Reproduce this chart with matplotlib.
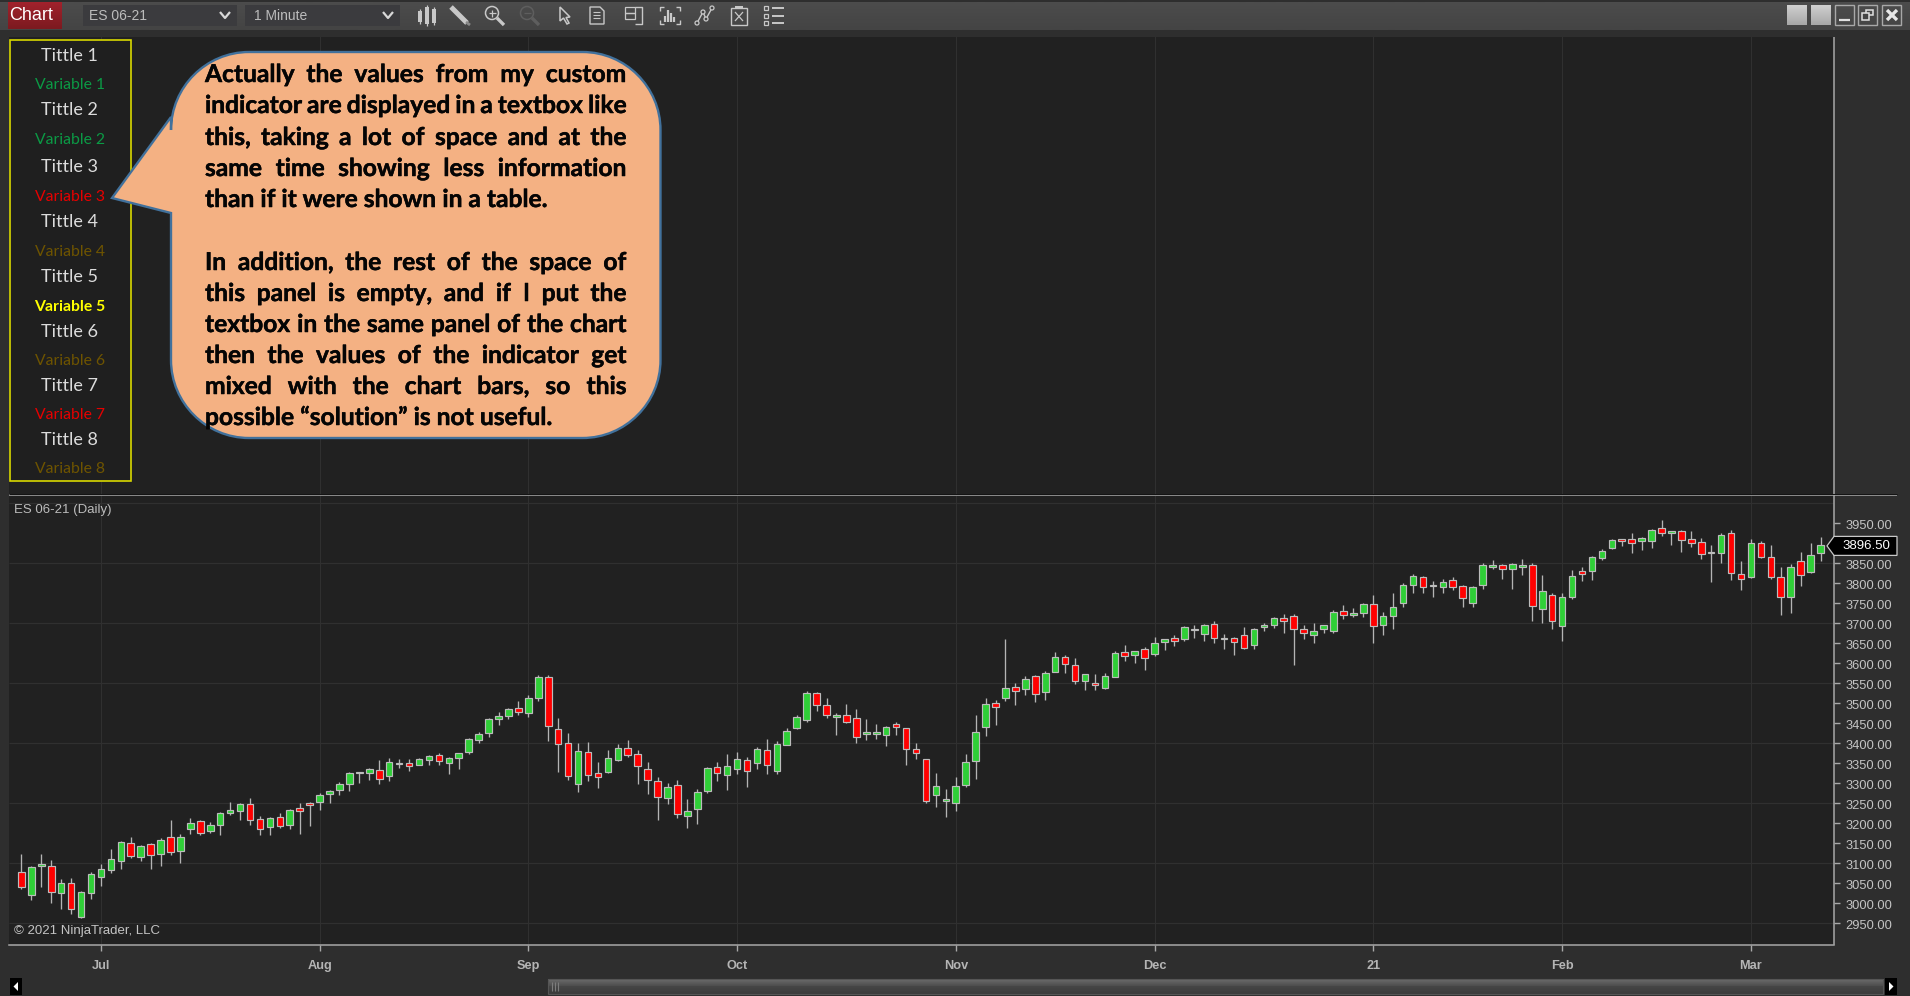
import matplotlib
matplotlib.use('Agg')
import matplotlib.pyplot as plt
from matplotlib.patches import Rectangle, Polygon, PathPatch, Circle
from matplotlib.path import Path
from matplotlib.transforms import ScaledTranslation
import matplotlib.patheffects as pe
import numpy as np

W, H = 1910, 996

opens = [3079,3022,3093,3094,3027,3052,2966,3026,3066,3083,
         3106,3152,3117,3149,3123,3167,3131,3186,3207,3181,
         3196,3225,3230,3248,3211,3191,3217,3196,3239,3252,
         3253,3273,3283,3298,3326,3327,3333,3319,3349,3350,
         3347,3359,3370,3352,3364,3379,3409,3427,3462,3468,
         3489,3477,3513,3565,3437,3402,3298,3378,3325,3329,
         3359,3388,3373,3336,3307,3263,3297,3218,3236,3282,
         3341,3320,3335,3358,3350,3383,3330,3397,3438,3459,
         3527,3495,3466,3471,3463,3424,3424,3422,3448,3438,
         3386,3361,3271,3256,3251,3295,3356,3440,3501,3513,
         3542,3537,3568,3529,3579,3617,3597,3555,3552,3539,
         3567,3628,3622,3637,3623,3654,3664,3660,3683,3673,
         3699,3660,3664,3672,3646,3690,3695,3714,3719,3687,
         3672,3687,3681,3732,3722,3726,3748,3696,3718,3752,
         3797,3817,3794,3792,3808,3793,3751,3797,3841,3847,
         3835,3842,3845,3736,3771,3694,3765,3831,3832,3863,
         3888,3910,3912,3907,3905,3938,3927,3930,3910,3904,
         3876,3877,3925,3823,3816,3902,3867,3817,3765,3855,
         3829,3877]
closes = [3042,3092,3099,3028,3052,2987,3029,3073,3085,3112,
          3154,3118,3144,3121,3159,3128,3167,3201,3175,3197,
          3227,3234,3249,3208,3186,3213,3193,3234,3230,3245,
          3271,3281,3298,3326,3328,3335,3310,3353,3351,3343,
          3361,3368,3355,3363,3375,3410,3424,3462,3468,3487,
          3479,3513,3565,3443,3399,3318,3382,3320,3315,3363,
          3388,3370,3343,3308,3267,3292,3223,3230,3279,3339,
          3326,3343,3362,3330,3386,3345,3398,3431,3465,3526,
          3497,3472,3470,3454,3415,3429,3429,3441,3442,3385,
          3375,3255,3294,3260,3294,3353,3428,3498,3492,3538,
          3532,3561,3524,3575,3615,3599,3557,3573,3547,3568,
          3625,3618,3630,3613,3652,3660,3657,3692,3687,3695,
          3663,3663,3654,3638,3687,3695,3713,3705,3686,3676,
          3682,3697,3729,3721,3727,3749,3694,3719,3742,3796,
          3819,3792,3797,3803,3790,3763,3790,3846,3845,3836,
          3848,3845,3743,3781,3707,3767,3818,3823,3866,3881,
          3908,3905,3902,3914,3933,3927,3930,3909,3902,3873,
          3878,3922,3827,3810,3901,3867,3817,3766,3840,3820,
          3872,3896.5]
highs = [3124,3093,3124,3108,3060,3063,3030,3079,3098,3137,
         3155,3166,3147,3150,3163,3208,3173,3214,3209,3204,
         3228,3254,3252,3264,3219,3215,3227,3237,3250,3253,
         3277,3283,3303,3328,3329,3338,3358,3363,3360,3360,
         3363,3370,3376,3366,3377,3413,3428,3463,3478,3489,
         3506,3521,3571,3571,3464,3427,3402,3403,3353,3383,
         3398,3408,3384,3354,3317,3300,3309,3261,3286,3342,
         3354,3373,3379,3367,3390,3411,3407,3438,3471,3532,
         3528,3513,3476,3498,3486,3461,3448,3444,3454,3438,
         3402,3362,3325,3287,3315,3374,3472,3513,3508,3660,
         3552,3568,3570,3582,3628,3620,3613,3573,3573,3577,
         3630,3646,3632,3642,3667,3662,3672,3693,3696,3699,
         3705,3673,3667,3690,3688,3702,3717,3723,3723,3696,
         3700,3697,3733,3747,3738,3752,3772,3729,3775,3802,
         3823,3818,3807,3811,3817,3796,3794,3851,3858,3848,
         3851,3861,3850,3822,3776,3776,3833,3842,3868,3885,
         3910,3912,3927,3917,3936,3958,3931,3933,3932,3913,
         3897,3926,3933,3857,3911,3905,3896,3842,3848,3879,
         3901,3916]
lows = [3035,3008,3041,3001,2986,2974,2964,3010,3043,3076,
        3085,3113,3105,3085,3093,3120,3100,3173,3170,3175,
        3170,3220,3208,3195,3172,3172,3188,3185,3174,3193,
        3234,3252,3272,3282,3302,3308,3299,3306,3339,3332,
        3345,3346,3347,3324,3336,3374,3402,3417,3446,3462,
        3470,3467,3507,3407,3329,3308,3278,3306,3289,3327,
        3356,3366,3299,3273,3208,3248,3213,3188,3198,3277,
        3307,3283,3323,3290,3337,3323,3323,3396,3436,3454,
        3482,3463,3421,3452,3402,3408,3411,3393,3421,3347,
        3360,3252,3240,3216,3232,3292,3310,3419,3446,3507,
        3497,3521,3503,3508,3578,3576,3548,3534,3534,3536,
        3567,3607,3602,3583,3618,3633,3644,3655,3663,3655,
        3651,3635,3620,3635,3635,3680,3689,3675,3596,3662,
        3651,3677,3675,3712,3715,3715,3652,3672,3685,3742,
        3775,3775,3767,3775,3783,3740,3740,3787,3836,3812,
        3787,3822,3705,3702,3686,3655,3760,3807,3809,3859,
        3885,3894,3876,3884,3889,3919,3897,3879,3890,3862,
        3804,3851,3809,3784,3813,3863,3812,3720,3727,3794,
        3825,3855]

month_pos = [8, 30, 51, 72, 94, 114, 136, 155, 174]
month_labels = ['Jul', 'Aug', 'Sep', 'Oct', 'Nov', 'Dec', '21', 'Feb', 'Mar']
price_ticks = list(range(2950, 4000, 50))
grid_prices = [2950, 3100, 3250, 3400, 3550, 3700, 3850, 4000]
last_price = 3896.5

panel_rows = ['Tittle 1', 'Variable 1', 'Tittle 2', 'Variable 2', 'Tittle 3', 'Variable 3',
              'Tittle 4', 'Variable 4', 'Tittle 5', 'Variable 5', 'Tittle 6', 'Variable 6',
              'Tittle 7', 'Variable 7', 'Tittle 8', 'Variable 8']
panel_colors = ['#dcdcdc', '#0b9a45', '#dcdcdc', '#0b9a45', '#dcdcdc', '#e60000',
                '#dcdcdc', '#6e5400', '#dcdcdc', '#ffff00', '#dcdcdc', '#6e5400',
                '#dcdcdc', '#e60000', '#dcdcdc', '#6e5400']
panel_y = [56, 84.5, 110, 140, 167, 196.5, 222, 251.5, 277, 306.5, 332, 360.5, 386, 414.5, 440, 468.5]

note_lines = ['Actually the values from my custom',
              'indicator are displayed in a textbox like',
              'this, taking a lot of space and at the',
              'same time showing less information',
              'than if it were shown in a table.',
              'In addition, the rest of the space of',
              'this panel is empty, and if I put the',
              'textbox in the same panel of the chart',
              'then the values of the indicator get',
              'mixed with the chart bars, so this',
              'possible “solution” is not useful.']
note_y = [82, 113, 145, 176, 207, 270, 301, 332, 363, 394, 425]
note_justify = [True, True, True, True, False, True, True, True, True, True, False]

plt.rcParams['font.family'] = ['Liberation Sans', 'DejaVu Sans']
fig = plt.figure(figsize=(W / 100, H / 100), dpi=100, facecolor='#2e2e2e')


def px_axes(x0, y0, x1, y1, **kw):
    return fig.add_axes([x0 / W, 1 - y1 / H, (x1 - x0) / W, (y1 - y0) / H], **kw)


X0, X1 = 9, 1833.5
YT, YB = 495, 944.5
xlim = ((X0 - 21.4) / 9.94, (X1 - 21.4) / 9.94)
ylim = (3950 - (YB - 523.5) / 0.4, 3950 - (YT - 523.5) / 0.4)

# top (empty) panel
top = px_axes(X0, 37, X1, YT, facecolor='#212121')
top.set_xlim(xlim)
top.set_ylim(0, 1)
top.set_xticks(month_pos)
top.set_yticks([])
top.tick_params(length=0, labelbottom=False)
top.grid(axis='x', color='#303030', lw=0.8)
for s in ['top', 'left', 'bottom']:
    top.spines[s].set_visible(False)
top.spines['right'].set_color('#a8a8a8')
top.spines['right'].set_linewidth(1.1)

# price panel
ax = px_axes(X0, YT, X1, YB, facecolor='#212121')
ax.set_xlim(xlim)
ax.set_ylim(ylim)
ax.set_axisbelow(True)
ax.vlines(month_pos, ylim[0], ylim[1], color='#303030', lw=0.8, zorder=1)
ax.hlines(grid_prices, xlim[0], xlim[1], color='#303030', lw=0.9, zorder=1)

idx = np.arange(len(opens))
o = np.array(opens, float)
c = np.array(closes, float)
ax.vlines(idx, lows, highs, color='#b4b4b4', lw=0.95, zorder=2)
ax.bar(idx, np.abs(c - o), bottom=np.minimum(o, c), width=0.66,
       color=['#2fcf37' if a >= b else '#ff0000' for a, b in zip(c, o)],
       edgecolor='#bcbcbc', linewidth=0.85, zorder=3)

ax.yaxis.tick_right()
ax.set_yticks(price_ticks)
ax.set_yticklabels(['%.2f' % p for p in price_ticks], fontsize=9.3, color='#c4c4c4')
ax.set_xticks(month_pos)
ax.set_xticklabels(month_labels, fontsize=9.2, color='#c4c4c4', fontweight='bold', alpha=0.9)
ax.tick_params(axis='y', length=4.5, width=1, color='#a8a8a8', pad=4)
ax.tick_params(axis='x', length=4, width=1, color='#a8a8a8', pad=7.5)
down = ScaledTranslation(0, -1 / 100, fig.dpi_scale_trans)
for lab in ax.get_yticklabels():
    lab.set_transform(lab.get_transform() + down)
for s in ['top', 'left']:
    ax.spines[s].set_visible(False)
for s in ['right', 'bottom']:
    ax.spines[s].set_color('#a8a8a8')
    ax.spines[s].set_linewidth(1.1)

# everything else sits on a pixel-based overlay
ui = fig.add_axes([0, 0, 1, 1], facecolor='none')
ui.set_xlim(0, W)
ui.set_ylim(H, 0)
ui.axis('off')


def grad(x0, y0, x1, y1, c_top, c_bot):
    rgb = np.linspace(matplotlib.colors.to_rgb(c_top), matplotlib.colors.to_rgb(c_bot), 16)[:, None, :]
    ui.imshow(rgb, extent=(x0, x1, y1, y0), aspect='auto', interpolation='bilinear', zorder=1)


def line(xs, ys, col='#c4c4c4', lw=1.2, z=3):
    ui.plot(xs, ys, color=col, lw=lw, solid_capstyle='butt', zorder=z)


def box(x0, y0, x1, y1, fc='none', ec='none', lw=1.0, z=2):
    ui.add_patch(Rectangle((x0, y0), x1 - x0, y1 - y0, fc=fc, ec=ec, lw=lw, zorder=z))


# toolbar
grad(0, 2, W, 30, '#4c4c4c', '#444444')
box(0, 30, W, 37, fc='#2e2e2e')
grad(8, 2, 61, 29, '#a0222c', '#7d1a20')
ui.text(31, 15.5, 'Chart', color='white', fontsize=13, ha='center', va='center', zorder=4)
box(83, 5, 237, 26, fc='#3b3b3e')
box(245, 5, 400, 26, fc='#3b3b3e')
ui.text(89, 15.5, 'ES 06-21', color='#bcbcbc', fontsize=10, va='center', zorder=4)
ui.text(254, 15.5, '1 Minute', color='#bcbcbc', fontsize=10, va='center', zorder=4)
for cx in (225, 388):
    line([cx - 5, cx, cx + 5], [12, 18, 12], '#d8d8d8', 1.6)

# toolbar icons
ic = '#c8c8c8'
for cx, y0, y1 in ((420, 11, 22), (427, 7, 24), (434, 9, 23)):
    line([cx, cx], [y0 - 2, y1 + 2], ic, 0.9)
    box(cx - 2, y0, cx + 2, y1, fc=ic)
line([451, 467], [7, 23], ic, 3.6)
line([466, 470], [22, 25], '#888888', 2)
for cx, col, plus in ((492, ic, True), (527, '#5e5e5e', False)):
    ui.add_patch(Circle((cx, 13), 6.5, fc='none', ec=col, lw=1.1, zorder=3))
    line([cx + 5, cx + 12], [18, 25], col, 2.4)
    line([cx - 3.5, cx + 3.5], [13, 13], col, 0.9)
    if plus:
        line([cx, cx], [9.5, 16.5], col, 0.9)
ui.add_patch(Polygon([(560, 7), (560, 21), (563.5, 18), (567, 24), (569, 23), (566, 17.5), (570, 17)],
                     fc='none', ec=ic, lw=1.1, zorder=3))
ui.add_patch(Polygon([(590, 7), (600, 7), (604, 11), (604, 24), (590, 24)], fc='none', ec=ic, lw=1.0, zorder=3))
for yy in (12, 15, 18):
    line([593, 600], [yy, yy], ic, 0.8)
box(625, 7, 635, 13, ec=ic, lw=0.9, z=3)
box(625, 13, 635, 19, ec=ic, lw=0.9, z=3)
line([635, 642, 642, 635], [7, 7, 24, 24], ic, 1.0)
line([660, 660, 664], [11, 7, 7], ic, 1.0)
line([660, 660, 664], [20, 24, 24], ic, 1.0)
line([676, 680, 680], [7, 7, 11], ic, 1.0)
line([676, 680, 680], [24, 24, 20], ic, 1.0)
for cx, y0 in ((665, 16), (668, 10), (671, 13), (674, 17)):
    line([cx, cx], [y0, 22], ic, 1.6)
line([697, 703, 706, 712], [23, 12, 19, 8], ic, 1.0)
for px_, py_ in ((697, 23), (703, 12), (706, 19), (712, 8)):
    ui.add_patch(Circle((px_, py_), 2, fc='#444444', ec=ic, lw=0.9, zorder=4))
box(731, 8, 747, 25, ec=ic, lw=1.0, z=3)
box(735, 6, 743, 9, fc=ic, z=3)
line([735, 743], [12, 21], ic, 0.9)
line([743, 735], [12, 21], ic, 0.9)
for yy in (8, 15.5, 23):
    box(764, yy - 2, 768, yy + 2, ec=ic, lw=0.9, z=3)
    line([772, 784], [yy, yy], ic, 1.4)

# window buttons
for x0 in (1787, 1811):
    grad(x0, 5, x0 + 20, 25, '#cfcfcf', '#a8a8a8')
for x0 in (1835, 1858, 1882):
    box(x0, 5, x0 + 19, 25, ec='#a8a8a8', lw=1.0, z=3)
line([1839, 1850], [20, 20], '#e0e0e0', 1.6)
box(1866, 10, 1873, 15, ec='#e0e0e0', lw=1.1, z=3)
box(1862, 13, 1869, 20, fc='#444444', ec='#e0e0e0', lw=1.1, z=4)
line([1887, 1897], [10, 20], '#e8e8e8', 2.4)
line([1897, 1887], [10, 20], '#e8e8e8', 2.4)

# indicator text box
box(9.5, 39.5, 130.5, 481, fc='#1f1f1f', ec='#d8d800', lw=1.2, z=2)
for label, col, yy in zip(panel_rows, panel_colors, panel_y):
    is_title = label.startswith('Tittle')
    ui.text(69.5, yy, label, color=col, family=['Lato', 'DejaVu Sans'], ha='center', va='center',
            fontsize=13 if is_title else 11.3,
            fontweight='bold' if label == 'Variable 5' else 'normal', zorder=4)

# separator between panels
line([9, 1897], [495, 495], '#a8a8a8', 1.1, z=5)
line([9, 1897], [493.5, 493.5], '#111111', 0.7, z=5)

ui.text(14, 510, 'ES 06-21 (Daily)', fontsize=9.5, color='#bcbcbc', va='center', zorder=5)
ui.text(13.5, 930.5, '© 2021 NinjaTrader, LLC', fontsize=9.5, color='#c4c4c4', va='center', zorder=5)

# last price flag
ly = YT + (ylim[1] - last_price) / (ylim[1] - ylim[0]) * (YB - YT) + 1
ui.add_patch(Polygon([(1827, ly), (1834, ly - 9.5), (1897, ly - 9.5), (1897, ly + 9.5), (1834, ly + 9.5)],
                     fc='black', ec='#c8c8c8', lw=0.9, zorder=6))
ui.text(1842, ly, '%.2f' % last_price, color='white', fontsize=9.5, va='center', zorder=7)

# scroll bar
box(0, 977, W, H, fc='#2e2e2e', z=0.5)
grad(548, 979, 1883, 986, '#6c6c6c', '#4e4e4e')
grad(548, 986, 1883, 994, '#464646', '#3c3c3c')
box(548, 979, 1883, 994, ec='#555555', lw=0.8, z=3)
for gx in (552, 555, 558):
    line([gx, gx], [982, 991], '#7c7c7c', 0.8)
box(10, 978, 22, 995, fc='black', z=3)
ui.add_patch(Polygon([(18, 982), (18, 991), (13.5, 986.5)], fc='white', ec='none', zorder=4))
box(1885, 978, 1897, 995, fc='black', z=3)
ui.add_patch(Polygon([(1889, 982), (1889, 991), (1893.5, 986.5)], fc='white', ec='none', zorder=4))

# callout
L, R, T, B = 171, 660.5, 52, 438
rad = 78
k = rad * 0.45
verts = [(L + rad, T), (R - rad, T), (R - k, T), (R, T + k), (R, T + rad),
         (R, B - rad), (R, B - k), (R - k, B), (R - rad, B),
         (L + rad, B), (L + k, B), (L, B - k), (L, B - rad),
         (L, 213), (112, 198), (L, 117), (L, T + rad), (L, T + k), (L + k, T), (L + rad, T)]
codes = [Path.MOVETO, Path.LINETO, Path.CURVE4, Path.CURVE4, Path.CURVE4,
         Path.LINETO, Path.CURVE4, Path.CURVE4, Path.CURVE4,
         Path.LINETO, Path.CURVE4, Path.CURVE4, Path.CURVE4,
         Path.LINETO, Path.LINETO, Path.LINETO, Path.LINETO, Path.CURVE4, Path.CURVE4, Path.CURVE4]
ui.add_patch(PathPatch(Path(verts, codes), fc='#f4b183', ec='#41719c', lw=1.7, zorder=8, joinstyle='miter'))

TX0, TX1 = 205, 626.5
rend = fig.canvas.get_renderer()
note_font = dict(family=['Lato', 'DejaVu Sans'], fontsize=17.7, fontweight='bold', color='#050505', zorder=9)
note_fx = [pe.withStroke(linewidth=0.35, foreground='#050505')]


def word_w(word):
    t = ui.text(0, 0, word, **note_font)
    w = t.get_window_extent(rend).width
    t.remove()
    return w


space_w = word_w('a b') - word_w('a') - word_w('b')
for txt, yy, just in zip(note_lines, note_y, note_justify):
    words = txt.split(' ')
    widths = [word_w(w) for w in words]
    gap = (TX1 - TX0 - sum(widths)) / (len(words) - 1) if just else space_w
    xx = TX0
    for w, ww in zip(words, widths):
        ui.text(xx, yy, w, va='baseline', path_effects=note_fx, **note_font)
        xx += ww + gap

fig.savefig('out.png', dpi=100, facecolor=fig.get_facecolor())
